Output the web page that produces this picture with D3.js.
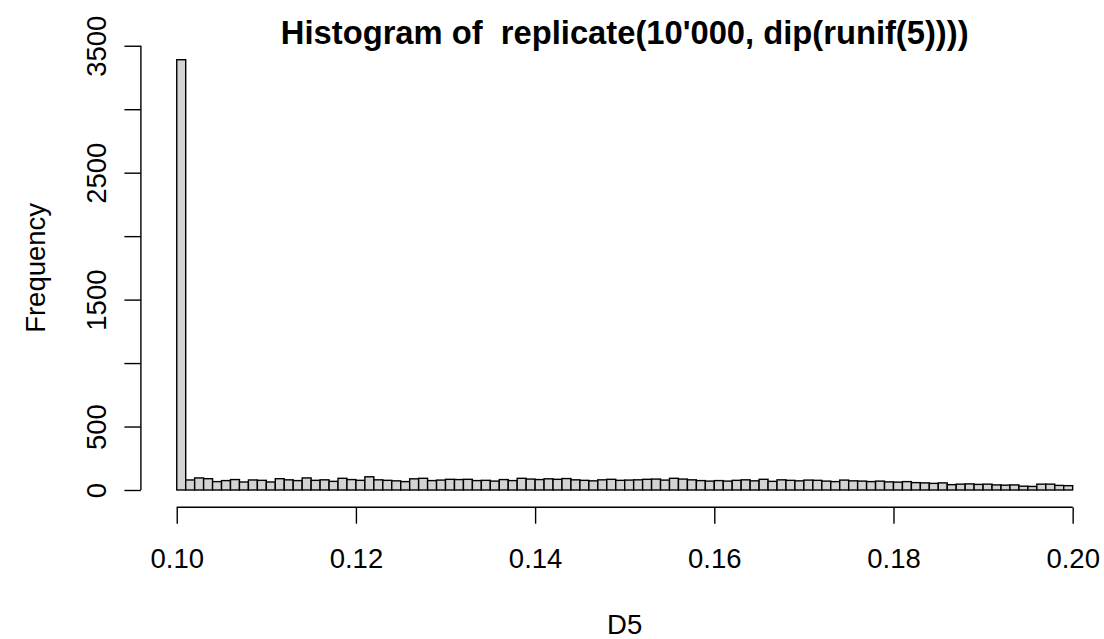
<!DOCTYPE html>
<html>
<head>
<meta charset="utf-8">
<script src="https://cdn.jsdelivr.net/npm/d3@7"></script>
<style>
  body { margin: 0; background: #fff; }
  svg text { font-family: "Liberation Sans", Arial, sans-serif; white-space: pre; }
</style>
</head>
<body>
<div id="chart"></div>
<script>
// Histogram of dip statistics, bins of width 0.001 from 0.100 to 0.200
const width = 1104;
const height = 639;

const binStart = 0.1;
const binWidth = 0.001;
const counts = [
  3390,
  79, 95, 89, 66, 74, 82, 63, 79, 76, 63,
  89, 80, 74, 95, 76, 80, 68, 92, 82, 76,
  104, 80, 76, 72, 66, 88, 92, 74, 78, 84,
  82, 84, 74, 76, 70, 82, 74, 92, 86, 82,
  88, 84, 90, 80, 76, 72, 80, 84, 76, 78,
  80, 84, 86, 78, 92, 86, 80, 74, 70, 74,
  70, 76, 80, 72, 84, 68, 80, 76, 72, 78,
  76, 70, 66, 78, 72, 70, 66, 70, 64, 62,
  66, 58, 56, 52, 56, 42, 46, 48, 44,
  46, 40, 38, 40, 30, 28, 46, 46, 36, 34
];
const xTicks = [0.10, 0.12, 0.14, 0.16, 0.18, 0.20];
const yTicks = [0, 500, 1000, 1500, 2000, 2500, 3000, 3500];
const yTickLabels = ["0", "500", "", "1500", "", "2500", "", "3500"];

const titleText = "Histogram of  replicate(10'000, dip(runif(5))))";
const xLabel = "D5";
const yLabel = "Frequency";

const fs = 27.5;

// scales (R style: 4% padding around data range)
const x = d3.scaleLinear().domain([0.096, 0.204]).range([140.9, 1108.5]);
const y = d3.scaleLinear().domain([-3390 * 0.04, 3390 * 1.04]).range([507.2, 42.5]);

const svg = d3.select("#chart")
  .append("svg")
  .attr("width", width)
  .attr("height", height);

const bins = counts.map((c, i) => ({
  x0: binStart + i * binWidth,
  x1: binStart + (i + 1) * binWidth,
  n: c
}));

// bars
svg.append("g")
  .selectAll("rect")
  .data(bins)
  .enter().append("rect")
  .attr("x", d => x(d.x0))
  .attr("y", d => y(d.n))
  .attr("width", d => x(d.x1) - x(d.x0))
  .attr("height", d => y(0) - y(d.n))
  .attr("fill", "#d3d3d3")
  .attr("stroke", "#000")
  .attr("stroke-width", 1.4);

// x axis
const xAxis = d3.axisBottom(x)
  .tickValues(xTicks)
  .tickFormat(d3.format(".2f"))
  .tickSizeInner(16.5)
  .tickSizeOuter(0)
  .tickPadding(25);

const gx = svg.append("g")
  .attr("transform", `translate(0,${y.range()[0]})`)
  .call(xAxis);
gx.select(".domain").remove();
gx.append("line")
  .attr("x1", x(0.10)).attr("x2", x(0.20))
  .attr("stroke", "#000").attr("stroke-width", 1.4);
gx.selectAll(".tick line").attr("stroke-width", 1.4);
gx.selectAll(".tick text")
  .attr("font-size", fs)
  .attr("fill", "#000");

// y axis
const yAxis = d3.axisLeft(y)
  .tickValues(yTicks)
  .tickFormat((d, i) => yTickLabels[i])
  .tickSizeInner(16.5)
  .tickSizeOuter(0);

const gy = svg.append("g")
  .attr("transform", `translate(${x.range()[0]},0)`)
  .call(yAxis);
gy.select(".domain").remove();
gy.append("line")
  .attr("y1", y(0)).attr("y2", y(3500))
  .attr("stroke", "#000").attr("stroke-width", 1.4);
gy.selectAll(".tick line").attr("stroke-width", 1.4);
gy.selectAll(".tick text")
  .attr("font-size", fs)
  .attr("fill", "#000")
  .attr("x", 0)
  .attr("dy", 0)
  .attr("text-anchor", "middle")
  .attr("transform", "translate(-34.5,0) rotate(-90)");

// title and axis labels
svg.append("text")
  .attr("x", (x.range()[0] + x.range()[1]) / 2)
  .attr("y", 44)
  .attr("text-anchor", "middle")
  .attr("font-weight", "bold")
  .attr("font-size", fs * 1.19)
  .text(titleText);

svg.append("text")
  .attr("x", (x.range()[0] + x.range()[1]) / 2)
  .attr("y", 634)
  .attr("text-anchor", "middle")
  .attr("font-size", fs)
  .text(xLabel);

svg.append("text")
  .attr("transform", `translate(45,${(y(0) + y(3500)) / 2}) rotate(-90)`)
  .attr("text-anchor", "middle")
  .attr("font-size", fs)
  .text(yLabel);
</script>
</body>
</html>
